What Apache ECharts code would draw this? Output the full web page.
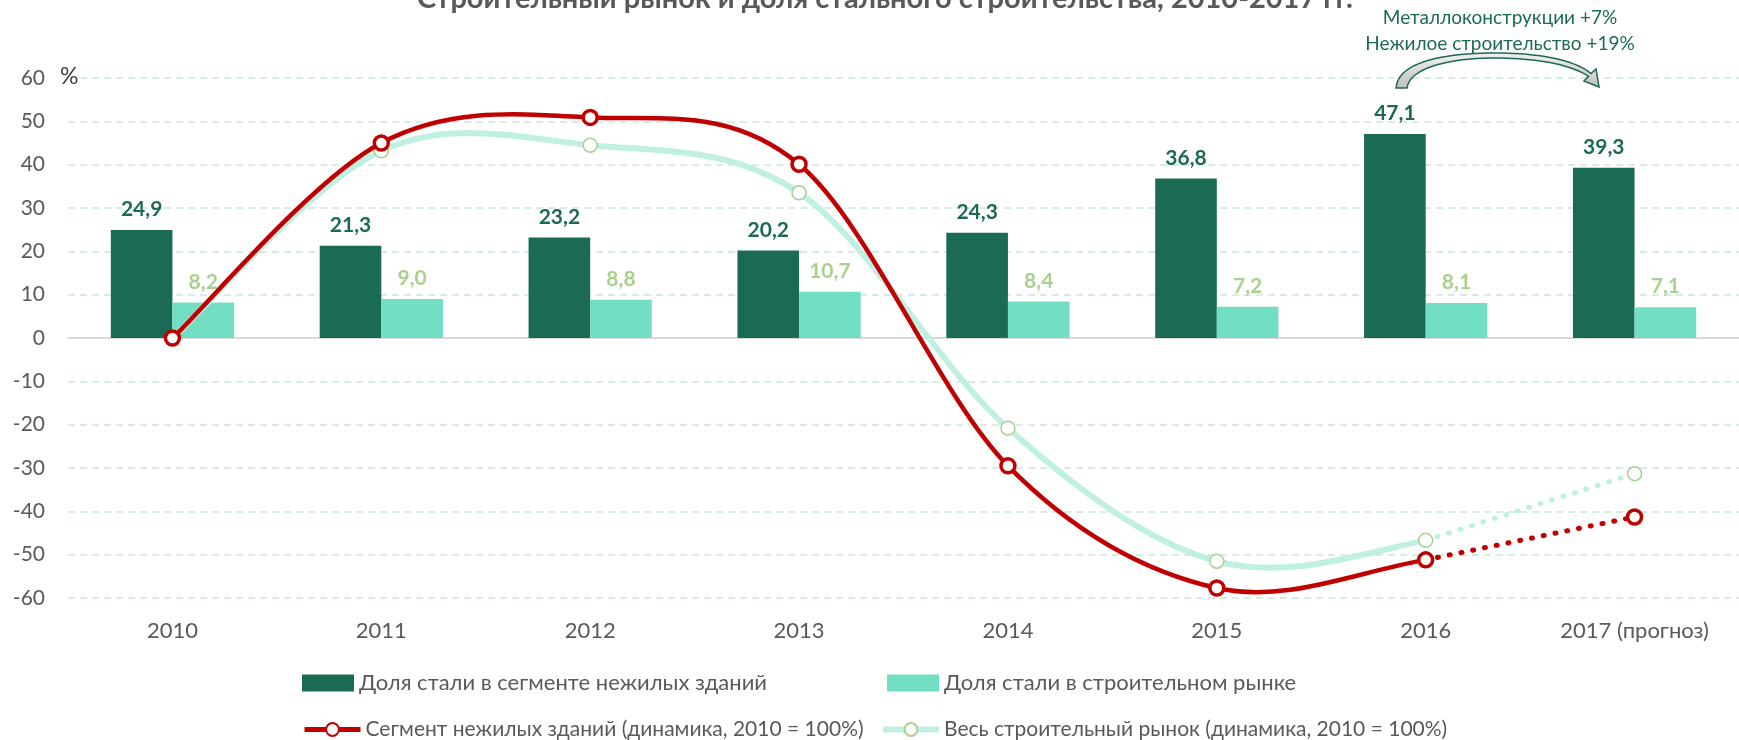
<!DOCTYPE html>
<html>
<head>
<meta charset="utf-8">
<script src="https://cdn.jsdelivr.net/npm/echarts@6/dist/echarts.min.js"></script>
<style>
  html, body { margin: 0; padding: 0; background: #fff; }
  #chart { width: 1739px; height: 740px; }
</style>
</head>
<body>
<div id="chart"></div>
<script>
// категории и значения
const years = ['2010', '2011', '2012', '2013', '2014', '2015', '2016', '2017 (прогноз)'];
const steelNonRes = [24.9, 21.3, 23.2, 20.2, 24.3, 36.8, 47.1, 39.3];
const steelMarket = [8.2, 9.0, 8.8, 10.7, 8.4, 7.2, 8.1, 7.1];
const nonResDyn = [0, 45, 50.9, 40.1, -29.5, -57.7, -51.2, -41.3];
const marketDyn = [0, 43.2, 44.5, 33.5, -20.8, -51.5, -46.7, -31.3];
const yTicks = { min: -60, max: 60, step: 10 };
const forecastFrom = 6; // с 2016 г. линия пунктиром

const FONT = 'Lato';
const GREY = '#595959';
const DARK = '#1b6a55';
const LIGHT = '#72dfc5';
const RED = '#c00000';
const TEAL = '#c0f0e2';
const PALE = '#a9d18e';

const NAME_BAR1 = 'Доля стали в сегменте нежилых зданий';
const NAME_BAR2 = 'Доля стали в строительном рынке';
const NAME_RED = 'Сегмент нежилых зданий (динамика, 2010 = 100%)';
const NAME_TEAL = 'Весь строительный рынок (динамика, 2010 = 100%)';

const solid = arr => arr.map((v, i) => (i <= forecastFrom ? v : null));
const dotted = arr => arr.map((v, i) => (i >= forecastFrom ? v : null));
const comma = v => v.toFixed(1).replace('.', ',');

// изогнутая стрелка над 2016-2017
function cubic(p0, p1, p2, p3, n) {
  const pts = [];
  for (let i = 0; i <= n; i++) {
    const t = i / n, u = 1 - t;
    pts.push([
      u * u * u * p0[0] + 3 * u * u * t * p1[0] + 3 * u * t * t * p2[0] + t * t * t * p3[0],
      u * u * u * p0[1] + 3 * u * u * t * p1[1] + 3 * u * t * t * p2[1] + t * t * t * p3[1]
    ]);
  }
  return pts;
}
const outer = cubic([1396, 88], [1398, 60], [1450, 53], [1495, 53], 20)
  .concat(cubic([1495, 53], [1540, 53], [1575, 60], [1591, 73.6], 20));
const inner = cubic([1407, 88], [1410, 66], [1455, 58], [1495, 58], 20)
  .concat(cubic([1495, 58], [1535, 58], [1570, 64], [1588.6, 76.4], 20));
const arrowPts = outer.concat([[1596, 69], [1599, 87], [1584, 81]], inner.reverse());

const chart = echarts.init(document.getElementById('chart'));

const barLabel = color => ({
  show: true,
  position: 'top',
  distance: 10,
  color: color,
  fontFamily: FONT,
  fontWeight: 'bold',
  fontSize: 21,
  formatter: p => comma(p.value)
});

// сглаживание как в Excel (Катмулл-Ром), точки берутся через api.coord
const curveSeries = (arr, color, width, z) => ({
  type: 'custom',
  z: z,
  silent: true,
  data: arr.slice(0, forecastFrom).map((v, i) => [i, v]),
  encode: { x: 0, y: 1 },
  renderItem: (params, api) => {
    const i = params.dataIndex;
    const at = k => {
      const j = Math.max(0, Math.min(arr.length - 1, k));
      return api.coord([j, arr[j]]);
    };
    const p0 = at(i - 1), p1 = at(i), p2 = at(i + 1), p3 = at(i + 2);
    return {
      type: 'bezierCurve',
      shape: {
        x1: p1[0], y1: p1[1], x2: p2[0], y2: p2[1],
        cpx1: p1[0] + (p2[0] - p0[0]) / 6, cpy1: p1[1] + (p2[1] - p0[1]) / 6,
        cpx2: p2[0] - (p3[0] - p1[0]) / 6, cpy2: p2[1] - (p3[1] - p1[1]) / 6
      },
      style: { stroke: color, lineWidth: width, fill: 'none', lineCap: 'round' }
    };
  }
});

// точки-маркеры (линия скрыта, её рисует curveSeries)
const markerSeries = (name, data, border, borderW, size, z) => ({
  name: name,
  type: 'line',
  data: data,
  z: z,
  symbol: 'circle',
  symbolSize: size,
  showSymbol: true,
  lineStyle: { opacity: 0 },
  itemStyle: { color: '#fff', borderColor: border, borderWidth: borderW },
  emphasis: { disabled: true }
});

const dotSeries = (name, data, color, border, borderW, size, z) => ({
  name: name,
  type: 'line',
  data: data,
  z: z,
  symbol: (v, p) => (p.dataIndex === years.length - 1 ? 'circle' : 'none'),
  symbolSize: size,
  lineStyle: { color: color, width: 5, type: [1, 11], cap: 'round' },
  itemStyle: { color: '#fff', borderColor: border, borderWidth: borderW },
  emphasis: { disabled: true }
});

const legendBase = {
  textStyle: { color: GREY, fontFamily: FONT, fontSize: 21 },
  itemGap: 0,
  padding: 0,
  selectedMode: false
};
const barLegendText = { color: GREY, fontFamily: FONT, fontSize: 22 };

const option = {
  animation: false,
  title: {
    text: 'Строительный рынок и доля стального строительства, 2010-2017 гг.',
    left: 880,
    textAlign: 'center',
    top: -21,
    textStyle: { color: GREY, fontFamily: FONT, fontWeight: 'bold', fontSize: 29 }
  },
  grid: { left: 68, top: 78, width: 1675, height: 520 },
  legend: [
    Object.assign({}, legendBase, { data: [NAME_BAR1], icon: 'rect', left: 302, top: 672, itemWidth: 52, itemHeight: 17, textStyle: barLegendText }),
    Object.assign({}, legendBase, { data: [NAME_BAR2], icon: 'rect', left: 887, top: 672, itemWidth: 52, itemHeight: 17, textStyle: barLegendText }),
    Object.assign({}, legendBase, {
      data: [{ name: NAME_RED, lineStyle: { opacity: 1, color: RED, width: 5 } }],
      left: 302, top: 719, itemWidth: 56, itemHeight: 16
    }),
    Object.assign({}, legendBase, {
      data: [{ name: NAME_TEAL, lineStyle: { opacity: 1, color: TEAL, width: 6 } }],
      left: 880, top: 719, itemWidth: 56, itemHeight: 16
    })
  ],
  xAxis: [
    {
      type: 'category',
      data: years,
      axisLine: { show: false, onZero: false },
      axisTick: { show: false },
      axisLabel: { color: GREY, fontFamily: FONT, fontSize: 22, margin: 22 }
    },
    {
      type: 'category',
      data: years,
      position: 'bottom',
      axisLine: { show: true, onZero: true, lineStyle: { color: '#d9d9d9', width: 2 } },
      axisTick: { show: false },
      axisLabel: { show: false }
    }
  ],
  yAxis: {
    type: 'value',
    min: yTicks.min,
    max: yTicks.max,
    interval: yTicks.step,
    axisLine: { show: false },
    axisTick: { show: false },
    axisLabel: { color: GREY, fontFamily: FONT, fontSize: 21, margin: 23 },
    splitLine: { lineStyle: { color: '#cfe3dc', width: 1.5, type: [7, 5] } }
  },
  series: [
    {
      name: NAME_BAR1,
      type: 'bar',
      data: steelNonRes,
      barGap: '0%',
      barCategoryGap: '41%',
      itemStyle: { color: DARK },
      label: barLabel(DARK),
      emphasis: { disabled: true }
    },
    {
      name: NAME_BAR2,
      type: 'bar',
      data: steelMarket,
      itemStyle: { color: LIGHT },
      label: barLabel(PALE),
      emphasis: { disabled: true }
    },
    curveSeries(marketDyn, TEAL, 6, 3),
    dotSeries('Весь рынок прогноз', dotted(marketDyn), TEAL, PALE, 1.5, 14, 3),
    markerSeries(NAME_TEAL, solid(marketDyn), PALE, 1.5, 14, 3),
    curveSeries(nonResDyn, RED, 4.5, 4),
    dotSeries('Сегмент прогноз', dotted(nonResDyn), RED, RED, 3.5, 14, 4),
    markerSeries(NAME_RED, solid(nonResDyn), RED, 3.5, 14, 4)
  ],
  graphic: [
    {
      type: 'text',
      left: 57,
      top: 65,
      z: 10,
      style: { text: '%', fill: '#404040', font: '23px Lato', backgroundColor: '#fff', padding: [0, 3] }
    },
    {
      type: 'text',
      x: 1500,
      y: 5,
      style: {
        text: 'Металлоконструкции +7%\nНежилое строительство +19%',
        fill: DARK,
        font: '19px Lato',
        lineHeight: 26,
        align: 'center'
      }
    },
    {
      type: 'polygon',
      z: 10,
      shape: { points: arrowPts },
      style: {
        fill: new echarts.graphic.LinearGradient(0, 0, 0, 1, [
          { offset: 0, color: '#f2f2f2' },
          { offset: 1, color: '#bfbfbf' }
        ]),
        stroke: DARK,
        lineWidth: 1.5
      }
    }
  ]
};

chart.setOption(option);
</script>
</body>
</html>
